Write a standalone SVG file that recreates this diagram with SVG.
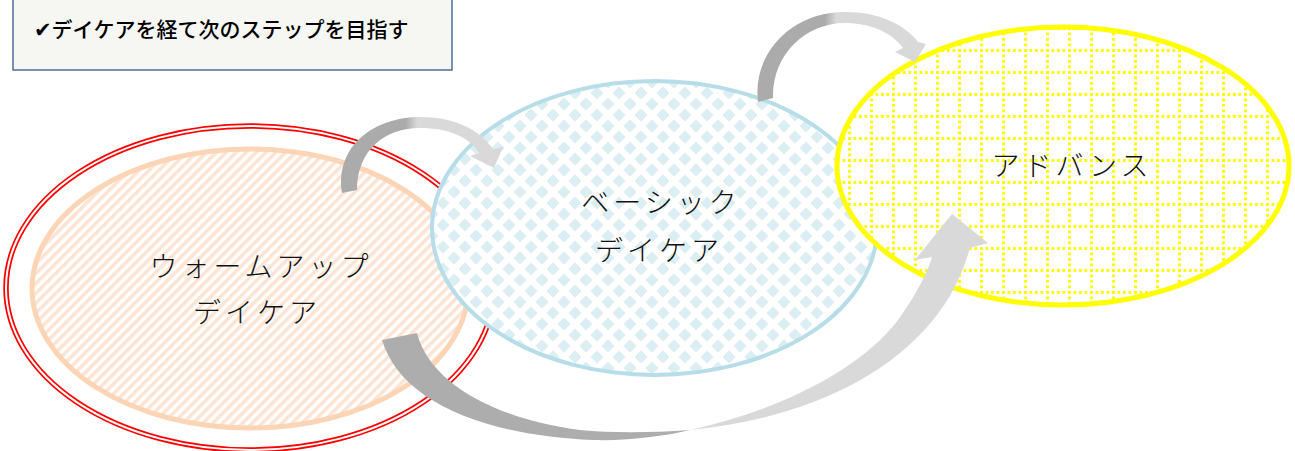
<svg xmlns="http://www.w3.org/2000/svg" width="1295" height="451" viewBox="0 0 1295 451">
<style>
.lbl{font-family:"Noto Sans CJK JP","Noto Sans",sans-serif;font-size:28px;font-weight:300;letter-spacing:4px;fill:#111;text-anchor:middle}
.ttl{font-family:"Noto Sans CJK JP","DejaVu Sans",sans-serif;font-size:21px;font-weight:500;fill:#000}
</style>
<defs>
<pattern id="stripes" width="7" height="7" patternUnits="userSpaceOnUse" patternTransform="rotate(45)">
<rect width="7" height="7" fill="#fff"/>
<rect width="3.5" height="7" fill="#FCE3D2"/>
</pattern>
<pattern id="diam" width="22" height="22" patternUnits="userSpaceOnUse" x="3" y="5">
<rect width="22" height="22" fill="#fff"/>
<path d="M11,4.5 L17.5,11 L11,17.5 L4.5,11 Z M0,-6.5 L6.5,0 L0,6.5 L-6.5,0 Z M22,-6.5 L28.5,0 L22,6.5 L15.5,0 Z M0,15.5 L6.5,22 L0,28.5 L-6.5,22 Z M22,15.5 L28.5,22 L22,28.5 L15.5,22 Z" fill="#DAEEF3"/>
</pattern>
<pattern id="grid" width="22" height="22" patternUnits="userSpaceOnUse" x="870" y="49">
<rect width="22" height="22" fill="#fff"/>
<line x1="0" y1="1.5" x2="22" y2="1.5" stroke="#FFFF00" stroke-width="3" stroke-dasharray="2.75 2.75"/>
<line x1="1.5" y1="0" x2="1.5" y2="22" stroke="#FFFF00" stroke-width="3" stroke-dasharray="2.75 2.75"/>
</pattern>
<linearGradient id="arc" x1="0" y1="0" x2="1" y2="0">
<stop offset="0" stop-color="#ABABAB"/>
<stop offset="0.40" stop-color="#ABABAB"/>
<stop offset="0.47" stop-color="#D9D9D9"/>
<stop offset="1" stop-color="#D9D9D9"/>
</linearGradient>
</defs>

<g id="title">
<rect x="13" y="-2" width="439" height="72" fill="#F6F7F2" stroke="#4F6D9A" stroke-width="1.5"/>
<text class="ttl" x="34" y="37">✔デイケアを経て次のステップを目指す</text>
</g>

<g id="warmup">
<ellipse cx="250" cy="288" rx="244" ry="162" fill="none" stroke="#FF0000" stroke-width="5.5"/>
<ellipse cx="250" cy="288" rx="244" ry="162" fill="none" stroke="#fff" stroke-width="2"/>
<ellipse cx="250" cy="288.5" rx="218" ry="139.5" fill="url(#stripes)" stroke="#FBD5B5" stroke-width="5"/>
<text class="lbl" x="261" y="277">ウォームアップ</text>
<text class="lbl" x="257" y="323">デイケア</text>
</g>

<g id="basic">
<ellipse cx="654.5" cy="228" rx="222.5" ry="147" fill="url(#diam)" stroke="#B7DDE8" stroke-width="4"/>
<text class="lbl" x="661" y="213">ベーシック</text>
<text class="lbl" x="659" y="261">デイケア</text>
</g>

<g id="advance">
<ellipse cx="1063" cy="166" rx="226" ry="139" fill="url(#grid)" stroke="#FFFF00" stroke-width="5"/>
<text class="lbl" x="1072" y="176">アドバンス</text>
</g>

<g id="connectors">
<path d="M342,193 C335,145 375,117 420,117 C455,117 480,130 493,149 L503,147 L494,168 L470,156 L479,153 C470,138 450,128 420,128 C385,128 357,150 357,190 Z" fill="url(#arc)"/>
<path d="M758,102 C752,55 790,12 845,12 C880,12 905,25 918,42 L926,44 L915,62 L895,52 L903,48 C891,32 870,23 845,23 C805,23 772,55 773,98 Z" fill="url(#arc)"/>
<path d="M382,340 C400,400 480,435 593,440 C630,441 665,436 690,430 C650,433 610,433 580,430 C500,420 430,385 417,333 Z" fill="#ADADAD"/>
<path d="M690,430 C780,410 860,370 898,320 C910,303 925,280 932,257 L915,260 L952,214 L988,243 L970,248 C962,275 950,300 933,320 C880,385 790,420 690,430 Z" fill="#D9D9D9"/>
</g>
</svg>
